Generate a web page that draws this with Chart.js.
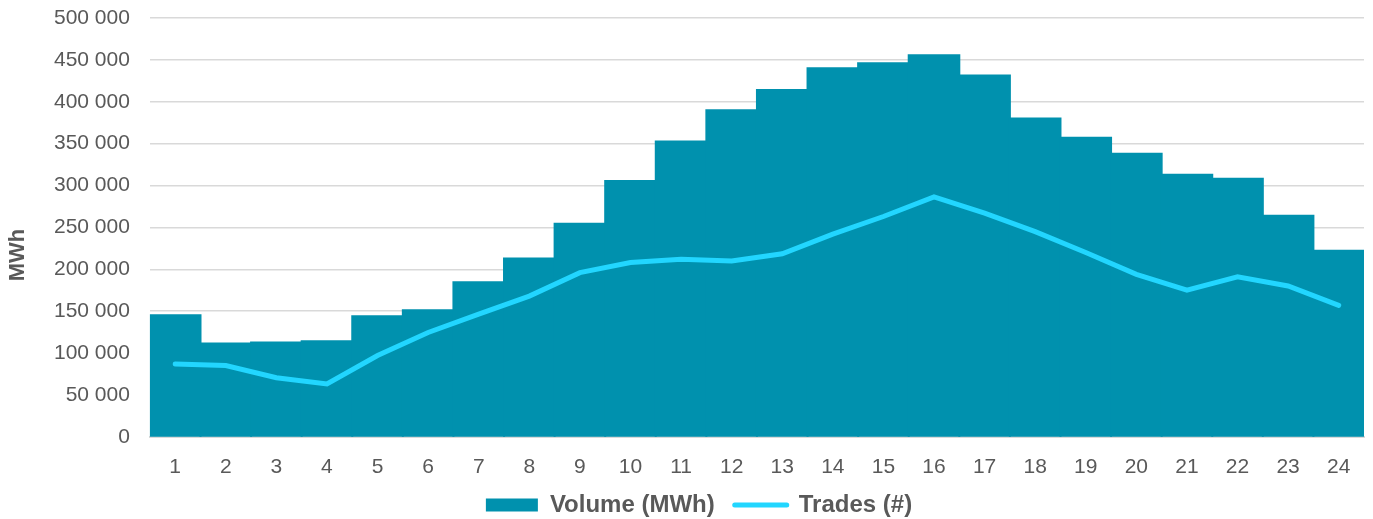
<!DOCTYPE html>
<html>
<head>
<meta charset="utf-8">
<script src="https://cdn.jsdelivr.net/npm/chart.js@4/dist/chart.umd.min.js"></script>
<style>
    html, body { margin: 0; padding: 0; background: #fff; }
    #wrap { width: 1373px; height: 519px; }
</style>
</head>
<body>
<div id="wrap"><canvas id="chart"></canvas></div>
<script>
// hours of the day
const hours = ['1', '2', '3', '4', '5', '6', '7', '8', '9', '10', '11', '12',
               '13', '14', '15', '16', '17', '18', '19', '20', '21', '22', '23', '24'];

// traded volume per hour (MWh)
const volume = [145000, 111500, 112500, 114000, 144000, 151000, 184500, 213000,
                254500, 305500, 352500, 390000, 414000, 440000, 446000, 455500,
                431500, 380000, 357000, 338000, 313000, 308000, 264000, 222000];

// number of trades, drawn against the same scale
const trades = [87000, 85000, 70500, 63000, 97000, 124500, 146500, 168000,
                196000, 208000, 212000, 210000, 218500, 242000, 263000, 286500,
                267000, 245000, 220000, 194000, 175000, 191000, 180000, 157000];

const yTicks = [0, 50000, 100000, 150000, 200000, 250000, 300000, 350000, 400000, 450000, 500000];

const yTitle = 'MWh';

const textColor = '#595959';
const gridColor = '#d9d9d9';

function formatThousands(v) {
    return String(v).replace(/\B(?=(\d{3})+(?!\d))/g, ' ');
}

// the axis title sits a bit below the middle of the axis in the original,
// so it is drawn here instead of through scales.y.title
const axisTitlePlugin = {
    id: 'axisTitle',
    afterDraw(chart) {
        const c = chart.ctx;
        c.save();
        c.translate(18, 255);
        c.rotate(-Math.PI / 2);
        c.font = 'bold 22px "Liberation Sans", Arial, sans-serif';
        c.fillStyle = textColor;
        c.textAlign = 'center';
        c.textBaseline = 'middle';
        c.fillText(yTitle, 0, 0);
        c.restore();
    }
};

Chart.defaults.font.family = '"Liberation Sans", Arial, sans-serif';
Chart.defaults.color = textColor;

const ctx = document.getElementById('chart').getContext('2d');
const chart = new Chart(ctx, {
    data: {
        labels: hours,
        datasets: [{
            type: 'bar',
            label: 'Volume (MWh)',
            data: volume,
            backgroundColor: '#0091ae',
            borderWidth: 0,
            inflateAmount: 1,
            categoryPercentage: 1.0,
            barPercentage: 1.0,
            pointStyle: 'rect',
            order: 1
        }, {
            type: 'line',
            label: 'Trades (#)',
            data: trades,
            borderColor: '#22d6ff',
            backgroundColor: '#22d6ff',
            borderWidth: 5,
            borderCapStyle: 'round',
            pointRadius: 0,
            tension: 0,
            pointStyle: 'line',
            order: 0
        }]
    },
    plugins: [axisTitlePlugin],
    options: {
        responsive: true,
        maintainAspectRatio: false,
        animation: false,
        layout: {
            padding: { left: 34, right: 9, top: 0, bottom: -8 }
        },
        plugins: {
            tooltip: { enabled: false },
            legend: {
                position: 'bottom',
                labels: {
                    usePointStyle: true,
                    pointStyleWidth: 52,
                    boxHeight: 13,
                    padding: 20,
                    color: textColor,
                    font: { size: 24, weight: 'bold' },
                    sort: (a, b) => a.datasetIndex - b.datasetIndex,
                    generateLabels(chart) {
                        const items = Chart.defaults.plugins.legend.labels.generateLabels(chart);
                        items.forEach(item => {
                            if (item.pointStyle === 'line') {
                                item.lineWidth = 5;
                                item.lineCap = 'round';
                                item.strokeStyle = '#22d6ff';
                            } else {
                                item.lineWidth = 0;
                            }
                        });
                        return items;
                    }
                }
            }
        },
        scales: {
            x: {
                grid: { display: false, drawTicks: false },
                border: { display: true, color: gridColor, width: 2 },
                ticks: {
                    padding: 18,
                    color: textColor,
                    font: { size: 21 }
                },
                afterFit(scale) {
                    scale.height -= 25;
                }
            },
            y: {
                min: 0,
                max: 500000,
                afterBuildTicks(scale) {
                    scale.ticks = yTicks.map(v => ({ value: v }));
                },
                afterFit(scale) {
                    scale.paddingTop = 18;
                },
                grid: { color: gridColor, lineWidth: 1.5, drawTicks: false },
                border: { display: false },
                ticks: {
                    padding: 20,
                    color: textColor,
                    font: { size: 21 },
                    callback: v => formatThousands(v)
                }
            }
        }
    }
});
</script>
</body>
</html>
